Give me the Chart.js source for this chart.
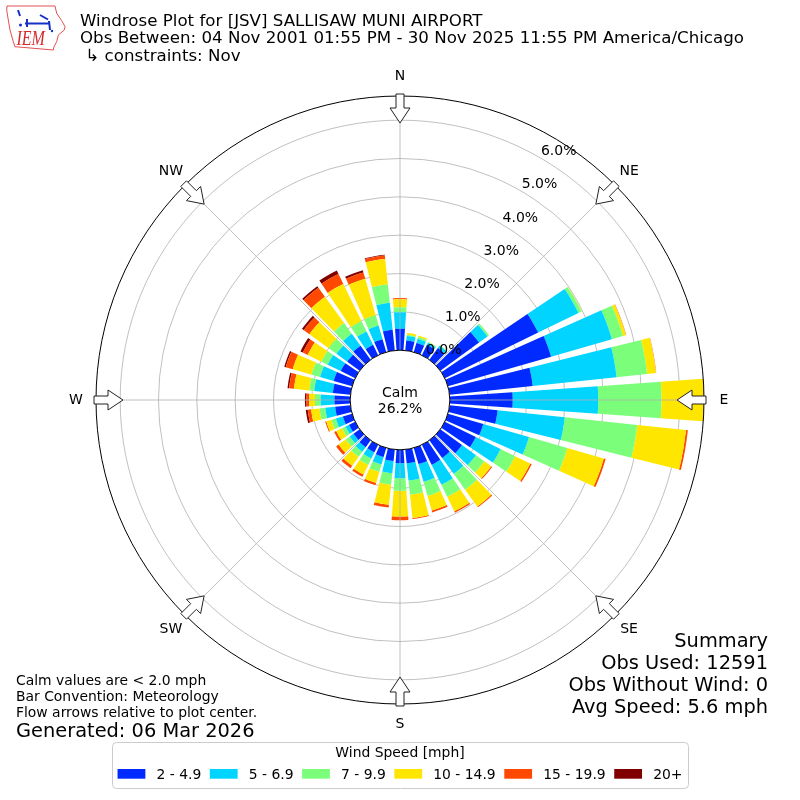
<!DOCTYPE html>
<html>
<head>
<meta charset="utf-8">
<script src="https://cdn.jsdelivr.net/npm/chart.js@4.4.1/dist/chart.umd.min.js"></script>
<style>
html,body{margin:0;padding:0;background:#ffffff;}
#wrap{position:relative;width:800px;height:800px;}
</style>
</head>
<body>
<div id="wrap"><canvas id="rose" width="800" height="800"></canvas></div>
<script>
// ---- data (percent of observations) ----
const dirDegrees = [0,10,20,30,40,50,60,70,80,90,100,110,120,130,140,150,160,170,180,190,200,210,220,230,240,250,260,270,280,290,300,310,320,330,340,350];
const speedBins = ['2 - 4.9','5 - 6.9','7 - 9.9','10 - 14.9','15 - 19.9','20+'];
const binColors = ['#002aff','#00d4ff','#7bff7b','#ffe600','#ff4800','#800000'];
const pct2to5   = [0.56,0.26,0.25,0.30,0.38,1.25,2.71,2.80,2.18,1.64,1.26,0.96,0.90,0.70,0.57,0.58,0.44,0.36,0.35,0.30,0.25,0.22,0.22,0.20,0.18,0.25,0.40,0.41,0.46,0.50,0.42,0.40,0.45,0.30,0.35,0.54];
const pct5to7   = [0.43,0.12,0.11,0.06,0.07,0.27,1.17,1.65,2.20,2.23,1.76,1.24,0.72,0.45,0.51,0.58,0.48,0.45,0.39,0.32,0.20,0.18,0.15,0.12,0.10,0.19,0.26,0.36,0.49,0.37,0.38,0.35,0.39,0.39,0.37,0.71];
const pct7to10  = [0.13,0.03,0.05,0.02,0.02,0.05,0.09,0.30,0.80,1.65,1.90,1.04,0.42,0.27,0.51,0.35,0.38,0.37,0.33,0.30,0.20,0.18,0.16,0.13,0.10,0.12,0.15,0.15,0.13,0.23,0.18,0.25,0.34,0.30,0.28,0.48];
const pct10to15 = [0.21,0.05,0.04,0.01,0.00,0.00,0.01,0.08,0.23,1.10,1.28,0.99,0.44,0.22,0.54,0.42,0.40,0.61,0.67,0.53,0.30,0.28,0.29,0.23,0.17,0.14,0.22,0.15,0.40,0.51,0.40,0.62,0.85,1.08,0.99,0.67];
const pct15to20 = [0.03,0.00,0.00,0.00,0.00,0.00,0.00,0.01,0.01,0.01,0.05,0.05,0.04,0.03,0.03,0.04,0.05,0.03,0.10,0.07,0.06,0.07,0.08,0.08,0.06,0.03,0.09,0.07,0.13,0.19,0.14,0.18,0.29,0.29,0.17,0.09];
const pct20plus = [0.00,0.00,0.00,0.00,0.00,0.00,0.00,0.00,0.00,0.00,0.00,0.00,0.00,0.00,0.00,0.00,0.00,0.00,0.00,0.00,0.00,0.00,0.00,0.00,0.00,0.00,0.05,0.04,0.04,0.04,0.07,0.06,0.05,0.10,0.06,0.02];
const tickValues = [0,1,2,3,4,5,6];
const compassLabels = ['N','NE','E','SE','S','SW','W','NW'];
const calmPct = '26.2%';
const titleLines = ['Windrose Plot for [JSV] SALLISAW MUNI AIRPORT',
  'Obs Between: 04 Nov 2001 01:55 PM - 30 Nov 2025 11:55 PM America/Chicago',
  ' \u21b3 constraints: Nov'];
const summaryLines = ['Summary','Obs Used: 12591','Obs Without Wind: 0','Avg Speed: 5.6 mph'];
const noteLines = ['Calm values are < 2.0 mph','Bar Convention: Meteorology','Flow arrows relative to plot center.'];
const generatedText = 'Generated: 06 Mar 2026';
const legendTitle = 'Wind Speed [mph]';
const rMin = -1.30, rMax = 6.63;

// cumulative stacking
const binSeries = [pct2to5, pct5to7, pct7to10, pct10to15, pct15to20, pct20plus];
const cumulative = [];
binSeries.forEach((arr, k) => {
  cumulative.push(arr.map((v, i) => +(v + (k ? cumulative[k-1][i] : 0)).toFixed(4)));
});

const FONT = '"DejaVu Sans", sans-serif';
const DEG = Math.PI / 180;

const ringPlugin = {
  id: 'rings',
  afterDatasetsUpdate(chart) {
    const s = chart.scales.r;
    const half = 1.0 * DEG; // opening 0.8 of the 10 degree sector
    chart.data.datasets.forEach((ds, d) => {
      const meta = chart.getDatasetMeta(d);
      meta.data.forEach((arc, i) => {
        const inner = d === 0 ? 0 : chart.data.datasets[d-1].data[i];
        arc.innerRadius = s.getDistanceFromCenterForValue(inner);
        arc.outerRadius = s.getDistanceFromCenterForValue(ds.data[i]);
        arc.startAngle += half;
        arc.endAngle -= half;
      });
    });
  }
};

function text(ctx, str, x, y, size, align, base, color, style) {
  ctx.font = (style || '') + ' ' + size + 'px ' + FONT;
  ctx.textAlign = align || 'left';
  ctx.textBaseline = base || 'alphabetic';
  ctx.fillStyle = color || '#000';
  ctx.fillText(str, x, y);
}

const decorPlugin = {
  id: 'decor',
  afterDraw(chart) {
    const ctx = chart.ctx;
    const s = chart.scales.r;
    const cx = s.xCenter, cy = s.yCenter;
    const r0 = s.getDistanceFromCenterForValue(0);
    const R = s.getDistanceFromCenterForValue(s.max);
    const pt = (deg, r) => [cx + r * Math.sin(deg * DEG), cy - r * Math.cos(deg * DEG)];
    ctx.save();
    // spokes
    ctx.strokeStyle = '#b0b0b0'; ctx.lineWidth = 0.8;
    for (let k = 0; k < 8; k++) {
      const a = pt(k * 45, r0), b = pt(k * 45, R);
      ctx.beginPath(); ctx.moveTo(a[0], a[1]); ctx.lineTo(b[0], b[1]); ctx.stroke();
    }
    // calm circle
    ctx.beginPath(); ctx.arc(cx, cy, r0, 0, 2 * Math.PI);
    ctx.fillStyle = '#fff'; ctx.fill();
    ctx.strokeStyle = '#000'; ctx.lineWidth = 1; ctx.stroke();
    text(ctx, 'Calm', cx, cy - 3, 14, 'center', 'alphabetic');
    text(ctx, calmPct, cx, cy + 13, 14, 'center', 'alphabetic');
    // outer boundary
    ctx.beginPath(); ctx.arc(cx, cy, R, 0, 2 * Math.PI);
    ctx.strokeStyle = '#000'; ctx.lineWidth = 1; ctx.stroke();
    // radial tick labels
    tickValues.forEach(v => {
      const p = pt(30, s.getDistanceFromCenterForValue(v));
      text(ctx, v.toFixed(1) + '%', p[0] + 1, p[1] + 1, 14, 'left', 'bottom');
    });
    // compass arrows + labels
    const shape = [[0,-4],[14,-4],[14,-10],[29,0],[14,10],[14,4],[0,4]];
    compassLabels.forEach((lab, k) => {
      const deg = k * 45;
      const tail = pt(deg, R + 2);
      const ux = -Math.sin(deg * DEG), uy = Math.cos(deg * DEG);
      const vx = -uy, vy = ux;
      ctx.beginPath();
      shape.forEach(([a, b], j) => {
        const x = tail[0] + ux * a + vx * b, y = tail[1] + uy * a + vy * b;
        if (j === 0) ctx.moveTo(x, y); else ctx.lineTo(x, y);
      });
      ctx.closePath();
      ctx.fillStyle = '#fff'; ctx.fill();
      ctx.strokeStyle = '#222'; ctx.lineWidth = 1; ctx.stroke();
      const lp = pt(deg, 324);
      text(ctx, lab, lp[0], lp[1], 14, 'center', 'middle');
    });
    ctx.restore();

    // ---- header ----
    ctx.save();
    // logo (Iowa outline)
    const iowa = [[7,6],[55,6],[56.7,13.3],[61.7,20.7],[65,26.7],[64.3,30],[58.3,35],[56.7,41.7],[54,46.7],[53.3,50],[15,46.7],[13.3,41.7],[10,30],[8.3,20],[6.7,10]];
    ctx.beginPath();
    iowa.forEach(([x, y], j) => j ? ctx.lineTo(x, y) : ctx.moveTo(x, y));
    ctx.closePath();
    ctx.strokeStyle = '#e05050'; ctx.lineWidth = 1; ctx.stroke();
    ctx.strokeStyle = '#1530c8'; ctx.fillStyle = '#1530c8'; ctx.lineWidth = 2;
    ctx.beginPath(); ctx.moveTo(25, 23.5); ctx.lineTo(50, 23.5); ctx.stroke();
    ctx.beginPath(); ctx.moveTo(27, 19); ctx.lineTo(27, 27); ctx.stroke();
    ctx.beginPath(); ctx.moveTo(40, 15); ctx.lineTo(48, 19.5); ctx.stroke();
    ctx.beginPath(); ctx.moveTo(49, 21); ctx.lineTo(50, 30); ctx.stroke();
    ctx.beginPath(); ctx.arc(52, 31, 1.2, 0, 2 * Math.PI); ctx.fill();
    ctx.beginPath(); ctx.moveTo(18, 10); ctx.lineTo(20, 16); ctx.stroke();
    ctx.beginPath(); ctx.arc(20.5, 25, 1.5, 0, 2 * Math.PI); ctx.fill();
    ctx.save();
    ctx.translate(16.5, 45); ctx.scale(0.8, 1);
    ctx.font = 'italic 20px "Liberation Serif", "DejaVu Serif", serif';
    ctx.fillStyle = '#d42a2a'; ctx.textAlign = 'left'; ctx.textBaseline = 'alphabetic';
    ctx.fillText('IEM', 0, 0);
    ctx.restore();
    titleLines.forEach((t, j) => text(ctx, t, 80, 26 + j * 17.4, 16.67, 'left', 'alphabetic'));
    // summary
    summaryLines.forEach((t, j) => text(ctx, t, 768, 647 + j * 22, 19.4, 'right', 'alphabetic'));
    noteLines.forEach((t, j) => text(ctx, t, 16, 685 + j * 16, 13.9, 'left', 'alphabetic'));
    text(ctx, generatedText, 16, 737, 19.4, 'left', 'alphabetic');
    // legend
    const lx = 112, ly = 742, lw = 576, lh = 46;
    ctx.beginPath();
    if (ctx.roundRect) ctx.roundRect(lx + 0.5, ly + 0.5, lw, lh, 4); else ctx.rect(lx + 0.5, ly + 0.5, lw, lh);
    ctx.fillStyle = 'rgba(255,255,255,0.8)'; ctx.fill();
    ctx.strokeStyle = '#cccccc'; ctx.lineWidth = 1; ctx.stroke();
    text(ctx, legendTitle, 400, 757, 13.9, 'center', 'alphabetic');
    ctx.font = '13.9px ' + FONT;
    const fs = 13.9, patchW = 27.8, pad = 11.1;
    const widths = speedBins.map(b => ctx.measureText(b).width);
    const inner = lw - 2 * 0.4 * fs;
    const used = widths.reduce((a, b) => a + b, 0) + speedBins.length * (patchW + pad);
    const colSp = (inner - used) / (speedBins.length - 1);
    let x = lx + 0.4 * fs;
    speedBins.forEach((b, k) => {
      ctx.fillStyle = binColors[k];
      ctx.fillRect(x, 769, patchW, 9.7);
      text(ctx, b, x + patchW + pad, 779, fs, 'left', 'alphabetic');
      x += patchW + pad + widths[k] + colSp;
    });
    ctx.restore();
  }
};

new Chart(document.getElementById('rose'), {
  type: 'polarArea',
  data: {
    labels: dirDegrees.map(d => d + '\u00b0'),
    datasets: cumulative.map((data, k) => ({
      label: speedBins[k], data, backgroundColor: binColors[k], borderWidth: 0
    }))
  },
  options: {
    responsive: false,
    animation: false,
    events: [],
    layout: { padding: 96 },
    plugins: { legend: { display: false }, tooltip: { enabled: false } },
    elements: { arc: { borderWidth: 0 } },
    scales: {
      r: {
        type: 'radialLinear',
        min: rMin, max: rMax,
        startAngle: -5,
        z: 1,
        ticks: { display: false, stepSize: 1 },
        grid: { circular: true, color: '#b0b0b0', lineWidth: 0.8 },
        angleLines: { display: false },
        pointLabels: { display: false },
        afterBuildTicks: (scale) => { scale.ticks = tickValues.map(v => ({ value: v })); }
      }
    }
  },
  plugins: [ringPlugin, decorPlugin]
});
</script>
</body>
</html>
